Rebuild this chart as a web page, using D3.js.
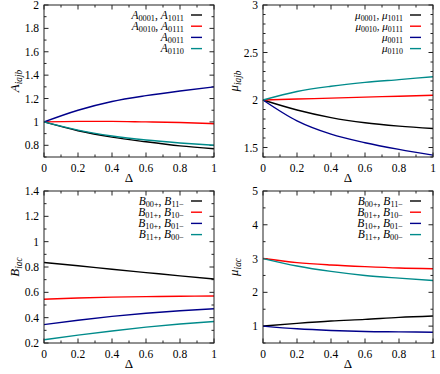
<!DOCTYPE html>
<html>
<head>
<meta charset="utf-8">
<script src="https://cdn.jsdelivr.net/npm/d3@7"></script>
<style>
  body { margin: 0; background: #fff; }
  svg { display: block; }
</style>
</head>
<body>
<svg id="chart"></svg>
<script>
// x values shared by all panels
const delta = [0, 0.2, 0.4, 0.6, 0.8, 1];

// top left: A_iajb
const a0001 = [1, 0.925, 0.87, 0.83, 0.795, 0.77];
const a0010 = [1, 1.005, 1.005, 1.0, 0.995, 0.985];
const a0011 = [1, 1.10, 1.175, 1.225, 1.265, 1.30];
const a0110 = [1, 0.93, 0.88, 0.845, 0.82, 0.80];

// top right: mu_iajb
const mu0001 = [2, 1.895, 1.815, 1.76, 1.725, 1.70];
const mu0010 = [2, 2.01, 2.02, 2.03, 2.04, 2.05];
const mu0011 = [2, 1.78, 1.64, 1.55, 1.48, 1.42];
const mu0110 = [2, 2.09, 2.145, 2.185, 2.215, 2.245];

// bottom left: B_iac
const b00 = [0.835, 0.81, 0.782, 0.756, 0.73, 0.705];
const b01 = [0.545, 0.555, 0.562, 0.566, 0.569, 0.571];
const b10 = [0.345, 0.38, 0.41, 0.435, 0.455, 0.47];
const b11 = [0.225, 0.262, 0.295, 0.325, 0.35, 0.37];

// bottom right: mu_iac
const m00 = [1, 1.08, 1.15, 1.2, 1.26, 1.30];
const m01 = [3, 2.88, 2.81, 2.76, 2.72, 2.70];
const m10 = [1, 0.92, 0.87, 0.84, 0.83, 0.82];
const m11 = [3, 2.78, 2.62, 2.50, 2.42, 2.35];

const colors = ['#000000', '#ff0000', '#00008b', '#008b8b'];
const xTicks = [0, 0.2, 0.4, 0.6, 0.8, 1];

const panels = [
  { left: 44, top: 5, ylab: 'A_{iajb}', ydom: [0.7, 2], major: 0.2, minor: 0.1,
    series: [a0001, a0010, a0011, a0110],
    names: ['A_{0001}, A_{1011}', 'A_{0010}, A_{0111}', 'A_{0011}', 'A_{0110}'], lsize: 11.5 },
  { left: 263, top: 5, ylab: 'μ_{iajb}', ydom: [1.4, 3], major: 0.5, minor: 0.1,
    series: [mu0001, mu0010, mu0011, mu0110],
    names: ['μ_{0001}, μ_{1011}', 'μ_{0010}, μ_{0111}', 'μ_{0011}', 'μ_{0110}'], lsize: 11 },
  { left: 44, top: 191, ylab: 'B_{iac}', ydom: [0.2, 1.4], major: 0.2, minor: 0.1,
    series: [b00, b01, b10, b11],
    names: ['B_{00+}, B_{11−}', 'B_{01+}, B_{10−}', 'B_{10+}, B_{01−}', 'B_{11+}, B_{00−}'], lsize: 11.5 },
  { left: 263, top: 191, ylab: 'μ_{iac}', ydom: [0.5, 5], major: 1, minor: 0.5,
    series: [m00, m01, m10, m11],
    names: ['B_{00+}, B_{11−}', 'B_{01+}, B_{10−}', 'B_{10+}, B_{01−}', 'B_{11+}, B_{00−}'], lsize: 11.5 }
];

const W = 170, H = 152;
const FONT = '"Liberation Serif", "DejaVu Serif", serif';

const svg = d3.select('#chart')
  .attr('width', 440)
  .attr('height', 374)
  .attr('font-family', FONT);

// write "A_{0001}, A_{1011}" style strings as tspans with subscripts
function richText(sel, str, size) {
  const parts = str.split(/(_\{[^}]*\})/);
  const shift = size * 0.2;
  let down = false;
  parts.forEach(p => {
    if (!p) return;
    const sub = p.startsWith('_{');
    const s = sub ? p.slice(2, -1) : p;
    s.match(/[A-Za-zμ]+|[^A-Za-zμ]+/g).forEach(run => {
      const ts = sel.append('tspan').text(run)
        .attr('font-size', sub ? size * 0.72 : size)
        .attr('font-style', /[A-Za-zμ]/.test(run) ? 'italic' : 'normal');
      if (sub && !down) { ts.attr('dy', shift); down = true; }
      else if (!sub && down) { ts.attr('dy', -shift); down = false; }
    });
  });
}

function steps(lo, hi, step) {
  const out = [];
  const n = Math.round((hi - lo) / step);
  for (let i = 0; i <= n; i++) out.push(+(lo + i * step).toFixed(6));
  return out;
}

panels.forEach(p => {
  const g = svg.append('g').attr('transform', `translate(${p.left},${p.top})`);
  const x = d3.scaleLinear().domain([0, 1]).range([0, W]);
  const y = d3.scaleLinear().domain(p.ydom).range([H, 0]);

  // ticks on all four sides, pointing in
  const yMajor = steps(Math.ceil(p.ydom[0] / p.major - 1e-9) * p.major, p.ydom[1], p.major);
  const yMinor = steps(Math.ceil(p.ydom[0] / p.minor - 1e-9) * p.minor, p.ydom[1], p.minor);
  const xMinor = steps(0, 1, 0.1);
  const tk = g.append('g').attr('stroke', '#222').attr('stroke-width', 1);
  xMinor.forEach(v => {
    const len = xTicks.some(t => Math.abs(t - v) < 1e-6) ? 4.5 : 2.5;
    tk.append('line').attr('x1', x(v)).attr('x2', x(v)).attr('y1', H).attr('y2', H - len);
    tk.append('line').attr('x1', x(v)).attr('x2', x(v)).attr('y1', 0).attr('y2', len);
  });
  yMinor.forEach(v => {
    const len = yMajor.some(t => Math.abs(t - v) < 1e-6) ? 4.5 : 2.5;
    tk.append('line').attr('x1', 0).attr('x2', len).attr('y1', y(v)).attr('y2', y(v));
    tk.append('line').attr('x1', W).attr('x2', W - len).attr('y1', y(v)).attr('y2', y(v));
  });

  // tick labels
  g.append('g').selectAll('text').data(xTicks).join('text')
    .attr('x', d => x(d)).attr('y', H + 15)
    .attr('text-anchor', 'middle').attr('font-size', 11.5)
    .text(d => d3.format('~g')(d));
  g.append('g').selectAll('text').data(yMajor).join('text')
    .attr('x', -5).attr('y', d => y(d) + 4)
    .attr('text-anchor', 'end').attr('font-size', 11.5)
    .text(d => d3.format('~g')(d));

  // curves
  const line = d3.line()
    .x((d, i) => x(delta[i]))
    .y(d => y(d))
    .curve(d3.curveMonotoneX);
  p.series.forEach((s, k) => {
    g.append('path').datum(s)
      .attr('fill', 'none')
      .attr('stroke', colors[k])
      .attr('stroke-width', 1.4)
      .attr('d', line);
  });

  // frame
  g.append('rect').attr('width', W).attr('height', H)
    .attr('fill', 'none').attr('stroke', '#222').attr('stroke-width', 1);

  // legend
  p.names.forEach((name, k) => {
    const ly = 10 + k * 11.2;
    const t = g.append('text')
      .attr('x', W - 30).attr('y', ly + 3.5)
      .attr('text-anchor', 'end');
    richText(t, name, p.lsize);
    g.append('line')
      .attr('x1', W - 23).attr('x2', W - 12)
      .attr('y1', ly).attr('y2', ly)
      .attr('stroke', colors[k]).attr('stroke-width', 1.4);
  });

  // axis titles
  g.append('text')
    .attr('x', W / 2).attr('y', H + 25)
    .attr('text-anchor', 'middle').attr('font-size', 13)
    .text('Δ');
  const yt = g.append('text')
    .attr('transform', `translate(${-25},${H / 2}) rotate(-90)`)
    .attr('text-anchor', 'middle');
  richText(yt, p.ylab, 13);
});
</script>
</body>
</html>
